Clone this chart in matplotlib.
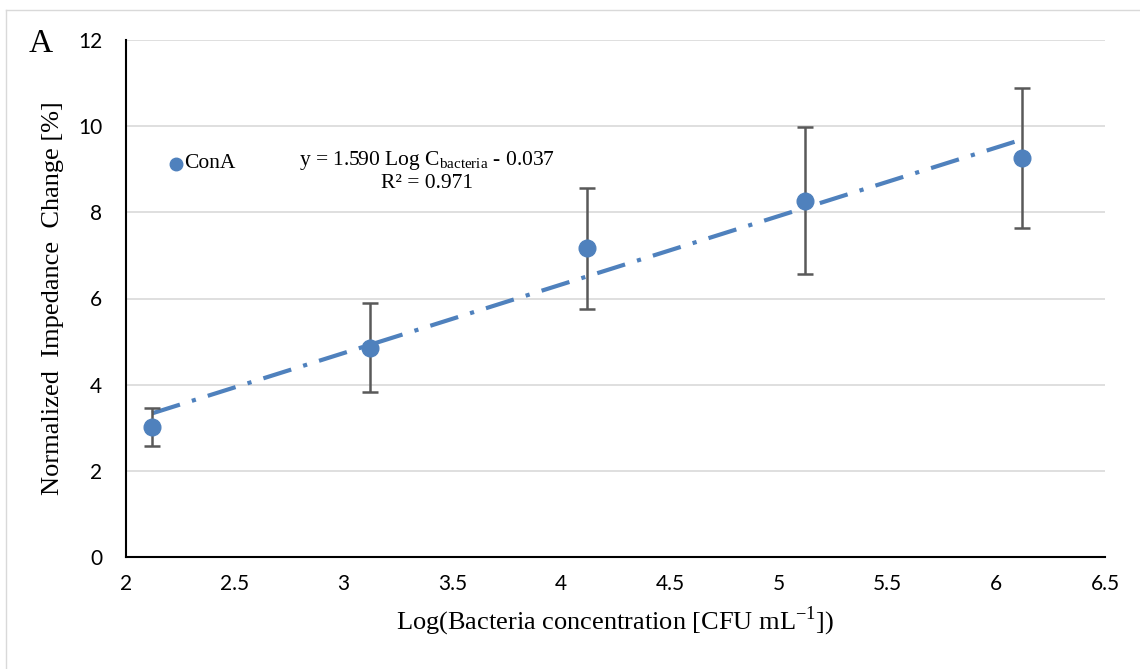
import matplotlib.pyplot as plt
import numpy as np
from matplotlib.lines import Line2D

# data
log_conc = [2.12, 3.12, 4.12, 5.12, 6.12]
impedance = [3.02, 4.86, 7.17, 8.26, 9.25]
err_low = [2.58, 3.82, 5.76, 6.58, 7.64]
err_high = [3.46, 5.90, 8.57, 9.97, 10.89]
slope = 1.590
intercept = -0.037

x_ticks = [2, 2.5, 3, 3.5, 4, 4.5, 5, 5.5, 6, 6.5]
y_ticks = [0, 2, 4, 6, 8, 10, 12]

blue = "#4f81bd"
tick_font = "Lato"
serif = "Liberation Serif"

fig = plt.figure(figsize=(11.4, 6.69), dpi=100)
ax = fig.add_axes([126 / 1140, 1 - 557 / 669, (1105 - 126) / 1140, (557 - 40) / 669])

# outer frame (only left/top edges visible)
fig.add_artist(Line2D([6 / 1140, 6 / 1140], [0, 1 - 10 / 669], transform=fig.transFigure, color="#d9d9d9", lw=1))
fig.add_artist(Line2D([6 / 1140, 1], [1 - 10 / 669, 1 - 10 / 669], transform=fig.transFigure, color="#d9d9d9", lw=1))

# trend line
xs = np.array([log_conc[0], log_conc[-1]])
ax.plot(xs, slope * xs + intercept, color=blue, lw=3, dashes=(7, 3, 1, 3), zorder=2)

x = np.array(log_conc)
y = np.array(impedance)
yerr = [y - np.array(err_low), np.array(err_high) - y]
ax.errorbar(x, y, yerr=yerr, fmt="none", ecolor="#595959", elinewidth=1.8, capsize=6, capthick=1.8, zorder=3)
ax.plot(x, y, "o", color=blue, markersize=12, zorder=4)

ax.set_xlim(2, 6.5)
ax.set_ylim(0, 12)
ax.set_xticks(x_ticks)
ax.set_xticklabels([f"{t:g}" for t in x_ticks], fontfamily=tick_font, fontsize=15)
ax.set_yticks(y_ticks)
ax.set_yticklabels([str(t) for t in y_ticks], fontfamily=tick_font, fontsize=15)
ax.tick_params(axis="x", length=0, pad=12)
ax.tick_params(axis="y", length=0, pad=17)
ax.grid(axis="y", color="#d9d9d9", lw=1.2)
ax.set_axisbelow(True)
for s in ["top", "right"]:
    ax.spines[s].set_visible(False)
ax.spines["left"].set_linewidth(1.5)
ax.spines["bottom"].set_linewidth(1.5)

ax.set_xlabel("Log(Bacteria concentration [CFU mL$^{\\mathregular{-1}}$])", fontfamily=serif, fontsize=19, labelpad=8)
ax.set_ylabel("Normalized  Impedance  Change [%]", fontfamily=serif, fontsize=19, labelpad=10)

# legend entry
ax.plot([2.23], [9.13], "o", color=blue, markersize=9, clip_on=False)
ax.text(2.265, 9.13, "ConA", fontfamily=serif, fontsize=15.5, va="center")

# equation
fig.text(427 / 1140, 1 - 160 / 669, "y = 1.590 Log C$_{\\mathregular{bacteria}}$ - 0.037",
         fontfamily=serif, fontsize=15.5, ha="center", va="center")
fig.text(427 / 1140, 1 - 183 / 669, "R² = 0.971", fontfamily=serif, fontsize=15.5, ha="center", va="center")

fig.text(41 / 1140, 1 - 44 / 669, "A", fontfamily=serif, fontsize=24, ha="center", va="center")

fig.savefig("out.png", dpi=100)
